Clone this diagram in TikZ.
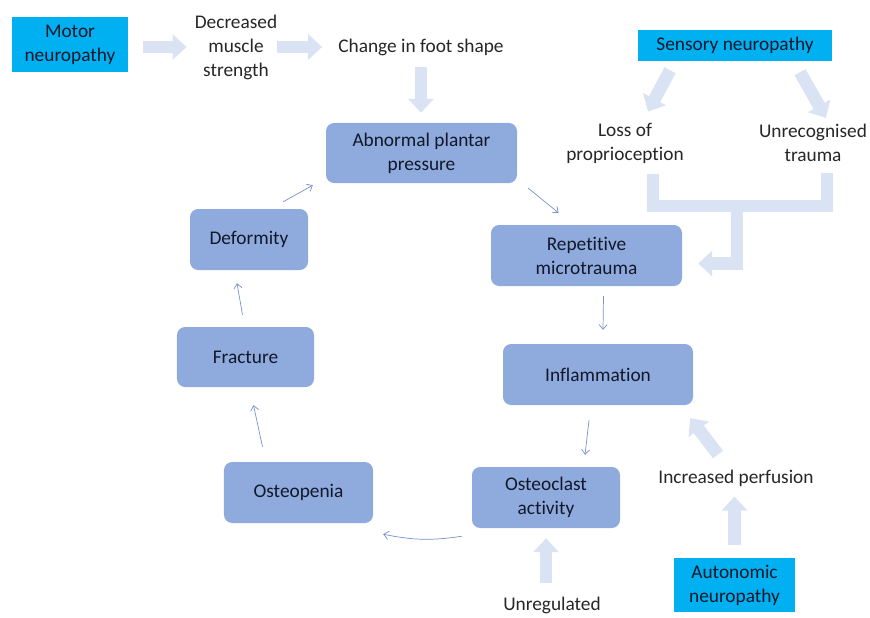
\documentclass[tikz,border=0pt]{standalone}
\usepackage{fontspec}
\setmainfont[Ligatures=NoCommon]{Carlito}
\usetikzlibrary{arrows.meta}
\definecolor{neuroblue}{RGB}{0,176,240}
\definecolor{cycleblue}{RGB}{143,170,220}
\definecolor{paleblue}{RGB}{218,227,243}
\definecolor{linkblue}{RGB}{120,146,204}
\definecolor{darktext}{RGB}{38,38,38}
\definecolor{boxtext}{RGB}{18,24,42}

\begin{document}
\begin{tikzpicture}[x=0.03cm,y=-0.03cm,
  every node/.style={font=\fontsize{16.5}{20.5}\selectfont,text=darktext,align=center},
  plain/.style={inner sep=0pt},
  neuro/.style={fill=neuroblue,text=boxtext,inner sep=0pt},
  cyclebox/.style={fill=cycleblue,text=boxtext,rounded corners=7pt,inner sep=0pt,minimum height=1.83cm},
  fat/.style={draw=paleblue,line width=0.38cm},
  fatarrow/.style={fat,-{Triangle[width=0.75cm,length=0.42cm]}},
  link/.style={draw=linkblue,line width=0.6pt,-{Straight Barb[length=4pt,width=7pt]}}]
\useasboundingbox (0,0) rectangle (870,618);

\node [neuro,minimum width=3.48cm,minimum height=1.65cm] (motor) at (70,44.5) {Motor\\neuropathy};
\node [neuro,minimum width=5.82cm,minimum height=0.93cm] (sensory) at (735,45.5) {Sensory neuropathy};
\node [neuro,minimum width=3.63cm,minimum height=1.62cm] (auto) at (734.5,585) {Autonomic\\neuropathy};

\node [plain] (weak) at (236,47) {Decreased\\muscle\\strength};
\node [plain] (shape) at (421,47) {Change in foot shape};
\node [plain] (loss) at (625,143) {Loss of\\proprioception};
\node [plain] (trauma) at (813,143) {Unrecognised\\trauma};
\node [plain] (perf) at (736,478) {Increased perfusion};
\node [plain] (ureg) at (552,605) {Unregulated};

\node [cyclebox,minimum width=5.73cm,minimum height=1.8cm] (abn) at (421.5,153) {Abnormal plantar\\pressure};
\node [cyclebox,minimum width=5.73cm] (rep) at (586.5,255.5) {Repetitive\\microtrauma};
\node [cyclebox,minimum width=5.7cm] (infl) at (598,374.5) {Inflammation};
\node [cyclebox,minimum width=4.44cm] (ocl) at (546,497.5) {Osteoclast\\activity};
\node [cyclebox,minimum width=4.47cm] (openia) at (298.5,492.5) {Osteopenia};
\node [cyclebox,minimum width=4.11cm,minimum height=1.8cm] (frac) at (245.5,357) {Fracture};
\node [cyclebox,minimum width=3.54cm] (deform) at (249,239.5) {Deformity};

% broad pale arrows
\draw [fatarrow,shorten <=0.45cm,shorten >=0.24cm] (motor.east |- weak.west) -- (weak.west);
\draw [fatarrow,shorten >=0.48cm] (weak.east) -- (shape.west);
\draw [fatarrow,shorten <=0.33cm,shorten >=0.3cm] (shape.south) -- (shape.south |- abn.north);
\draw [fatarrow] ([xshift=-1.95cm,yshift=-0.27cm]sensory.south) -- ([xshift=0.69cm,yshift=0.33cm]loss.north);
\draw [fatarrow] ([xshift=1.95cm,yshift=-0.33cm]sensory.south) -- ([xshift=0.39cm,yshift=0.18cm]trauma.north);
\coordinate (join) at (737,206);
\draw [fat] ([xshift=0.84cm,yshift=-0.33cm]loss.south) |- (join) -| ([xshift=0.42cm,yshift=-0.33cm]trauma.south);
\draw [fatarrow] (join) |- ([xshift=0.48cm,yshift=-0.24cm]rep.east);
\draw [fatarrow,shorten <=0.39cm,shorten >=0.3cm] (auto.north) -- (auto.north |- perf.south);
\draw [fatarrow] ([xshift=-0.54cm,yshift=0.45cm]perf.north) -- ([xshift=-0.09cm,yshift=-0.39cm]infl.south east);
\draw [fatarrow,shorten <=0.39cm,shorten >=0.3cm] (ocl.south |- ureg.north) -- (ocl.south);

% the cycle
\draw [link] ([xshift=0.33cm,yshift=-0.15cm]abn.south east) -- ([xshift=-0.84cm,yshift=0.36cm]rep.north);
\draw [link] ([xshift=0.51cm,yshift=-0.3cm]rep.south) -- ([xshift=0.15cm,yshift=0.42cm]infl.north);
\draw [link] ([xshift=-0.27cm,yshift=-0.45cm]infl.south) -- ([xshift=1.17cm,yshift=0.36cm]ocl.north);
\draw [link] ([xshift=-0.3cm,yshift=-0.24cm]ocl.south west) to [bend left=10] ([xshift=0.3cm,yshift=-0.33cm]openia.south east);
\draw [link] ([xshift=-1.08cm,yshift=0.45cm]openia.north) -- ([xshift=0.24cm,yshift=-0.54cm]frac.south);
\draw [link] ([xshift=-0.09cm,yshift=0.36cm]frac.north) -- ([xshift=-0.36cm,yshift=-0.39cm]deform.south);
\draw [link] ([xshift=-0.75cm,yshift=0.21cm]deform.north east) -- ([xshift=-0.39cm,yshift=-0.06cm]abn.south west);
\end{tikzpicture}
\end{document}
